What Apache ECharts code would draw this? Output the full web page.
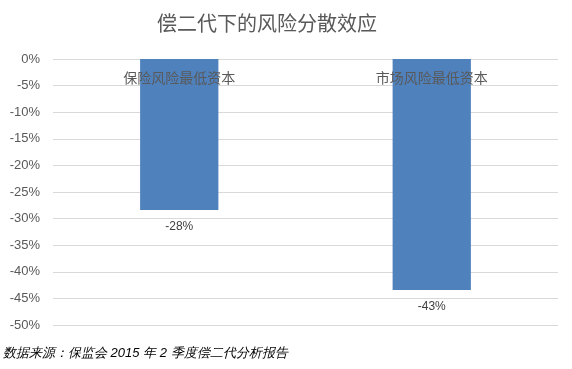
<!DOCTYPE html>
<html><head><meta charset="utf-8">
<script src="https://cdn.jsdelivr.net/npm/echarts@6/dist/echarts.min.js"></script>
<style>html,body{margin:0;padding:0;background:#fff}#c{width:572px;height:369px}</style>
</head><body><div id="c"></div>
<script>
const title = '偿二代下的风险分散效应';
const categories = ['保险风险最低资本', '市场风险最低资本'];
const values = [-28.4, -43.4];
const yMin = -50, yMax = 0, yStep = 5;
const source = '数据来源：保监会 2015 年 2 季度偿二代分析报告';
const fontCJK = '"Microsoft YaHei","Noto Sans CJK SC",sans-serif';
const chart = echarts.init(document.getElementById('c'), null, {renderer:'canvas'});
chart.setOption({
  animation:false,
  title:{text:title,left:152,top:8,textStyle:{fontSize:20,fontWeight:'normal',color:'#595959',fontFamily:fontCJK}},
  graphic:[{type:'text',left:3,top:347,style:{text:source,fontSize:13,fontStyle:'italic',fill:'#000',font:'italic 13px "Noto Sans CJK SC",sans-serif'}}],
  grid:{left:53,right:14,top:59,bottom:44},
  xAxis:{type:'category',data:categories,position:'top',z:10,
    axisLine:{show:false},axisTick:{show:false},
    axisLabel:{inside:true,margin:12,fontSize:14,color:'#595959',fontFamily:fontCJK}},
  yAxis:{type:'value',min:yMin,max:yMax,interval:yStep,
    axisLine:{show:false},axisTick:{show:false},
    splitLine:{lineStyle:{color:'#d9d9d9',width:1}},
    axisLabel:{formatter:v=>v+'%',fontSize:13,color:'#595959',margin:13,fontFamily:'"Liberation Sans",Arial,sans-serif'}},
  series:[{type:'bar',data:values,barWidth:'31%',itemStyle:{color:'#4f81bd'},z:1,
    label:{show:true,position:'bottom',distance:11,formatter:p=>Math.round(p.value)+'%',fontSize:12,color:'#404040',fontFamily:'"Liberation Sans",Arial,sans-serif'}}]
});
</script></body></html>
